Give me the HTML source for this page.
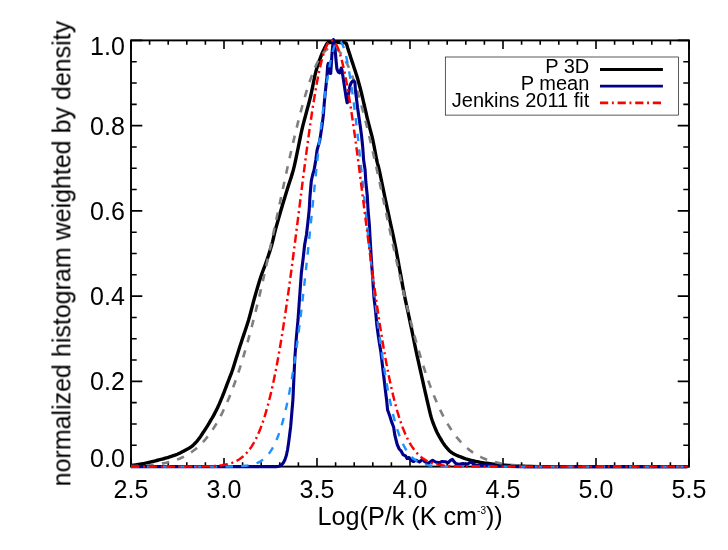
<!DOCTYPE html>
<html><head><meta charset="utf-8"><title>plot</title>
<style>
html,body{margin:0;padding:0;background:#fff;}
body{width:728px;height:550px;overflow:hidden;font-family:"Liberation Sans",sans-serif;}
svg{display:block;}
svg text{font-family:"Liberation Sans",sans-serif;fill:#000;}
</style></head><body>
<svg width="728" height="550" viewBox="0 0 728 550">
<defs><filter id="gs" x="-5%" y="-5%" width="110%" height="110%" color-interpolation-filters="sRGB"><feColorMatrix type="saturate" values="0"/></filter></defs>
<rect x="0" y="0" width="728" height="550" fill="#fff"/>
<g fill="none" stroke="#000">
<rect x="131.00" y="40.40" width="558.00" height="426.20" stroke-width="1.9"/>
<path d="M131.00,466.60v-8.60M131.00,40.40v8.60M149.60,466.60v-4.30M149.60,40.40v4.30M168.20,466.60v-4.30M168.20,40.40v4.30M186.80,466.60v-4.30M186.80,40.40v4.30M205.40,466.60v-4.30M205.40,40.40v4.30M224.00,466.60v-8.60M224.00,40.40v8.60M242.60,466.60v-4.30M242.60,40.40v4.30M261.20,466.60v-4.30M261.20,40.40v4.30M279.80,466.60v-4.30M279.80,40.40v4.30M298.40,466.60v-4.30M298.40,40.40v4.30M317.00,466.60v-8.60M317.00,40.40v8.60M335.60,466.60v-4.30M335.60,40.40v4.30M354.20,466.60v-4.30M354.20,40.40v4.30M372.80,466.60v-4.30M372.80,40.40v4.30M391.40,466.60v-4.30M391.40,40.40v4.30M410.00,466.60v-8.60M410.00,40.40v8.60M428.60,466.60v-4.30M428.60,40.40v4.30M447.20,466.60v-4.30M447.20,40.40v4.30M465.80,466.60v-4.30M465.80,40.40v4.30M484.40,466.60v-4.30M484.40,40.40v4.30M503.00,466.60v-8.60M503.00,40.40v8.60M521.60,466.60v-4.30M521.60,40.40v4.30M540.20,466.60v-4.30M540.20,40.40v4.30M558.80,466.60v-4.30M558.80,40.40v4.30M577.40,466.60v-4.30M577.40,40.40v4.30M596.00,466.60v-8.60M596.00,40.40v8.60M614.60,466.60v-4.30M614.60,40.40v4.30M633.20,466.60v-4.30M633.20,40.40v4.30M651.80,466.60v-4.30M651.80,40.40v4.30M670.40,466.60v-4.30M670.40,40.40v4.30M689.00,466.60v-8.60M689.00,40.40v8.60M131.00,466.60h11.30M689.00,466.60h-11.30M131.00,445.29h5.70M689.00,445.29h-5.70M131.00,423.98h5.70M689.00,423.98h-5.70M131.00,402.67h5.70M689.00,402.67h-5.70M131.00,381.36h11.30M689.00,381.36h-11.30M131.00,360.05h5.70M689.00,360.05h-5.70M131.00,338.74h5.70M689.00,338.74h-5.70M131.00,317.43h5.70M689.00,317.43h-5.70M131.00,296.12h11.30M689.00,296.12h-11.30M131.00,274.81h5.70M689.00,274.81h-5.70M131.00,253.50h5.70M689.00,253.50h-5.70M131.00,232.19h5.70M689.00,232.19h-5.70M131.00,210.88h11.30M689.00,210.88h-11.30M131.00,189.57h5.70M689.00,189.57h-5.70M131.00,168.26h5.70M689.00,168.26h-5.70M131.00,146.95h5.70M689.00,146.95h-5.70M131.00,125.64h11.30M689.00,125.64h-11.30M131.00,104.33h5.70M689.00,104.33h-5.70M131.00,83.02h5.70M689.00,83.02h-5.70M131.00,61.71h5.70M689.00,61.71h-5.70M131.00,40.40h11.30M689.00,40.40h-11.30" stroke-width="1.6"/>
</g>
<g filter="url(#gs)" font-size="25px"><text x="131.0" y="497.8" text-anchor="middle">2.5</text><text x="224.0" y="497.8" text-anchor="middle">3.0</text><text x="317.0" y="497.8" text-anchor="middle">3.5</text><text x="410.0" y="497.8" text-anchor="middle">4.0</text><text x="503.0" y="497.8" text-anchor="middle">4.5</text><text x="596.0" y="497.8" text-anchor="middle">5.0</text><text x="689.0" y="497.8" text-anchor="middle">5.5</text><text x="124.8" y="466.7" text-anchor="end">0.0</text><text x="124.8" y="390.4" text-anchor="end">0.2</text><text x="124.8" y="305.1" text-anchor="end">0.4</text><text x="124.8" y="219.9" text-anchor="end">0.6</text><text x="124.8" y="134.6" text-anchor="end">0.8</text><text x="124.8" y="55.3" text-anchor="end">1.0</text></g>
<g fill="none" stroke-linejoin="round" stroke-linecap="butt">
<path d="M131.00,465.60 L131.79,465.47 L132.90,465.28 L134.20,465.06 L135.61,464.83 L137.00,464.60 L138.44,464.37 L139.99,464.13 L141.57,463.89 L143.10,463.64 L144.50,463.40 L145.73,463.16 L146.84,462.93 L147.90,462.69 L148.93,462.45 L150.00,462.20 L151.10,461.93 L152.20,461.65 L153.30,461.37 L154.40,461.08 L155.50,460.80 L156.60,460.52 L157.70,460.24 L158.80,459.97 L159.90,459.69 L161.00,459.40 L162.11,459.11 L163.22,458.81 L164.34,458.51 L165.43,458.21 L166.50,457.90 L167.53,457.59 L168.54,457.27 L169.53,456.95 L170.51,456.63 L171.50,456.30 L172.49,455.97 L173.48,455.65 L174.47,455.31 L175.44,454.97 L176.40,454.60 L177.35,454.21 L178.29,453.79 L179.21,453.37 L180.12,452.93 L181.00,452.50 L181.86,452.06 L182.71,451.61 L183.53,451.16 L184.33,450.72 L185.10,450.30 L185.83,449.92 L186.52,449.57 L187.19,449.22 L187.84,448.87 L188.50,448.50 L189.16,448.11 L189.81,447.71 L190.46,447.29 L191.09,446.86 L191.70,446.40 L192.29,445.92 L192.85,445.41 L193.41,444.89 L193.95,444.35 L194.50,443.80 L195.04,443.25 L195.58,442.70 L196.12,442.12 L196.66,441.53 L197.20,440.90 L197.76,440.23 L198.32,439.53 L198.88,438.81 L199.44,438.06 L200.00,437.30 L200.56,436.49 L201.12,435.64 L201.68,434.78 L202.21,433.96 L202.70,433.20 L203.13,432.56 L203.50,432.01 L203.85,431.48 L204.24,430.90 L204.70,430.20 L205.25,429.34 L205.87,428.38 L206.52,427.35 L207.18,426.31 L207.80,425.30 L208.39,424.32 L208.98,423.34 L209.56,422.35 L210.13,421.37 L210.70,420.40 L211.27,419.44 L211.83,418.49 L212.39,417.54 L212.95,416.58 L213.50,415.60 L214.04,414.60 L214.58,413.58 L215.12,412.54 L215.66,411.48 L216.20,410.40 L216.76,409.28 L217.32,408.14 L217.89,406.98 L218.45,405.80 L219.00,404.60 L219.53,403.40 L220.04,402.19 L220.56,400.96 L221.07,399.70 L221.60,398.40 L222.15,397.05 L222.71,395.67 L223.28,394.25 L223.84,392.83 L224.40,391.40 L224.95,389.97 L225.49,388.52 L226.02,387.08 L226.56,385.63 L227.10,384.20 L227.64,382.79 L228.18,381.40 L228.72,380.00 L229.26,378.61 L229.80,377.20 L230.32,375.86 L230.82,374.59 L231.33,373.27 L231.88,371.78 L232.50,370.00 L233.17,367.94 L233.87,365.68 L234.63,363.20 L235.47,360.48 L236.40,357.50 L237.46,354.16 L238.64,350.47 L239.88,346.58 L241.15,342.65 L242.40,338.80 L243.63,335.11 L244.87,331.48 L246.12,327.81 L247.36,324.02 L248.60,320.00 L249.82,315.66 L251.04,311.06 L252.26,306.35 L253.48,301.68 L254.70,297.20 L255.94,292.85 L257.21,288.54 L258.47,284.34 L259.70,280.33 L260.90,276.60 L262.05,273.25 L263.16,270.23 L264.25,267.38 L265.32,264.52 L266.40,261.50 L267.50,258.28 L268.60,254.97 L269.69,251.62 L270.73,248.28 L271.70,245.00 L272.54,241.84 L273.28,238.76 L273.99,235.68 L274.74,232.49 L275.60,229.10 L276.59,225.48 L277.65,221.69 L278.77,217.78 L279.93,213.80 L281.10,209.80 L282.30,205.74 L283.54,201.59 L284.80,197.40 L286.06,193.25 L287.30,189.20 L288.54,185.28 L289.79,181.46 L291.02,177.67 L292.21,173.87 L293.30,170.00 L294.28,166.06 L295.18,162.09 L296.02,158.09 L296.85,154.06 L297.70,150.00 L298.56,145.85 L299.42,141.61 L300.27,137.37 L301.13,133.23 L302.00,129.30 L302.89,125.62 L303.79,122.12 L304.70,118.74 L305.60,115.39 L306.50,112.00 L307.38,108.68 L308.24,105.47 L309.11,102.22 L309.99,98.79 L310.90,95.00 L311.84,90.66 L312.80,85.88 L313.77,80.96 L314.77,76.20 L315.80,71.90 L316.88,68.05 L318.02,64.46 L319.17,61.13 L320.28,58.10 L321.30,55.40 L322.24,53.06 L323.14,51.08 L323.97,49.38 L324.73,47.90 L325.40,46.60 L325.95,45.50 L326.39,44.64 L326.76,43.97 L327.12,43.44 L327.50,43.00 L327.88,42.70 L328.24,42.56 L328.60,42.52 L329.01,42.52 L329.50,42.50 L330.10,42.45 L330.77,42.43 L331.49,42.41 L332.24,42.41 L333.00,42.40 L333.77,42.39 L334.56,42.39 L335.38,42.39 L336.19,42.39 L337.00,42.40 L337.81,42.41 L338.62,42.42 L339.44,42.44 L340.23,42.47 L341.00,42.50 L341.76,42.54 L342.52,42.59 L343.25,42.64 L343.92,42.71 L344.50,42.80 L344.96,42.84 L345.33,42.84 L345.64,42.88 L345.93,43.07 L346.25,43.50 L346.58,44.20 L346.88,45.11 L347.19,46.19 L347.53,47.40 L347.93,48.70 L348.38,50.11 L348.88,51.65 L349.41,53.30 L349.98,55.06 L350.57,56.90 L351.23,58.92 L351.94,61.12 L352.68,63.37 L353.39,65.54 L354.03,67.50 L354.58,69.17 L355.08,70.64 L355.55,72.03 L356.01,73.44 L356.50,75.00 L357.03,76.74 L357.57,78.58 L358.12,80.47 L358.65,82.36 L359.16,84.20 L359.64,85.99 L360.11,87.75 L360.56,89.50 L360.99,91.25 L361.43,93.00 L361.85,94.74 L362.25,96.45 L362.66,98.18 L363.06,99.95 L363.49,101.80 L363.94,103.75 L364.41,105.76 L364.89,107.83 L365.37,109.92 L365.85,112.00 L366.30,113.97 L366.73,115.84 L367.17,117.78 L367.69,119.95 L368.31,122.50 L369.09,125.51 L370.00,128.88 L370.96,132.48 L371.93,136.23 L372.82,140.00 L373.66,144.00 L374.48,148.30 L375.28,152.60 L376.02,156.60 L376.70,160.00 L377.24,162.36 L377.64,163.88 L378.03,165.22 L378.51,167.04 L379.20,170.00 L380.15,174.43 L381.29,179.88 L382.53,185.88 L383.78,191.91 L384.95,197.50 L386.04,202.62 L387.10,207.59 L388.15,212.45 L389.18,217.24 L390.20,222.00 L391.21,226.66 L392.20,231.21 L393.19,235.73 L394.16,240.30 L395.12,245.00 L396.07,249.87 L397.01,254.86 L397.95,259.90 L398.87,264.97 L399.80,270.00 L400.74,275.13 L401.69,280.38 L402.62,285.58 L403.53,290.51 L404.38,295.00 L405.17,298.89 L405.89,302.32 L406.59,305.50 L407.28,308.65 L408.00,312.00 L408.73,315.49 L409.46,318.97 L410.21,322.53 L410.98,326.25 L411.80,330.20 L412.68,334.48 L413.61,339.03 L414.56,343.72 L415.53,348.42 L416.50,353.00 L417.50,357.58 L418.53,362.24 L419.56,366.81 L420.53,371.12 L421.40,375.00 L422.14,378.33 L422.77,381.22 L423.35,383.86 L423.92,386.39 L424.50,389.00 L425.10,391.64 L425.68,394.20 L426.27,396.74 L426.87,399.32 L427.50,402.00 L428.17,404.88 L428.87,407.93 L429.59,410.99 L430.30,413.90 L431.00,416.50 L431.67,418.75 L432.33,420.76 L432.99,422.58 L433.64,424.31 L434.30,426.00 L434.96,427.65 L435.62,429.22 L436.27,430.70 L436.93,432.13 L437.60,433.50 L438.28,434.81 L438.96,436.06 L439.65,437.24 L440.33,438.39 L441.00,439.50 L441.65,440.58 L442.29,441.61 L442.92,442.61 L443.56,443.57 L444.20,444.50 L444.85,445.41 L445.51,446.29 L446.18,447.13 L446.84,447.94 L447.50,448.70 L448.14,449.41 L448.75,450.07 L449.38,450.69 L450.05,451.30 L450.80,451.90 L451.64,452.51 L452.56,453.12 L453.52,453.71 L454.51,454.28 L455.50,454.80 L456.49,455.27 L457.49,455.69 L458.52,456.08 L459.58,456.48 L460.70,456.90 L461.88,457.36 L463.12,457.83 L464.39,458.31 L465.69,458.77 L467.00,459.20 L468.31,459.60 L469.62,459.97 L470.96,460.32 L472.34,460.66 L473.80,461.00 L475.35,461.34 L476.99,461.68 L478.67,462.01 L480.35,462.32 L482.00,462.60 L483.61,462.86 L485.21,463.09 L486.81,463.30 L488.40,463.50 L490.00,463.70 L491.60,463.90 L493.20,464.08 L494.80,464.26 L496.40,464.44 L498.00,464.60 L499.58,464.75 L501.15,464.90 L502.73,465.04 L504.34,465.17 L506.00,465.30 L507.72,465.43 L509.48,465.56 L511.28,465.68 L513.12,465.79 L515.00,465.90 L516.86,465.99 L518.69,466.08 L520.59,466.16 L522.66,466.23 L525.00,466.30 L525.56,466.37 L524.28,466.44 L524.23,466.51 L528.45,466.56 L540.00,466.60 L563.36,466.60 L596.50,466.60 L632.70,466.60 L665.24,466.60 L687.40,466.60" stroke="#000" stroke-width="3.4"/>
<path d="M131.00,466.17 L132.00,466.14 L133.00,466.11 L134.00,466.08 L135.00,466.04 L136.00,466.00 L137.00,465.96 L138.00,465.92 L139.00,465.87 L140.00,465.82 L141.00,465.77 L142.00,465.71 L143.00,465.65 L144.00,465.59 L145.00,465.52 L146.00,465.45 L147.00,465.38 L148.00,465.30 L149.00,465.21 L150.00,465.12 L151.00,465.03 L152.00,464.93 L153.00,464.82 L154.00,464.71 L155.00,464.59 L156.00,464.47 L157.00,464.34 L158.00,464.20 L159.00,464.05 L160.00,463.90 L161.00,463.74 L162.00,463.57 L163.00,463.38 L164.00,463.19 L165.00,462.99 L166.00,462.78 L167.00,462.56 L168.00,462.33 L169.00,462.08 L170.00,461.83 L171.00,461.56 L172.00,461.27 L173.00,460.97 L174.00,460.66 L175.00,460.33 L176.00,459.99 L177.00,459.63 L178.00,459.25 L179.00,458.86 L180.00,458.44 L181.00,458.01 L182.00,457.56 L183.00,457.09 L184.00,456.59 L185.00,456.07 L186.00,455.54 L187.00,454.97 L188.00,454.38 L189.00,453.77 L190.00,453.13 L191.00,452.47 L192.00,451.77 L193.00,451.05 L194.00,450.30 L195.00,449.52 L196.00,448.70 L197.00,447.85 L198.00,446.97 L199.00,446.06 L200.00,445.11 L201.00,444.12 L202.00,443.10 L203.00,442.04 L204.00,440.94 L205.00,439.80 L206.00,438.62 L207.00,437.39 L208.00,436.13 L209.00,434.81 L210.00,433.46 L211.00,432.06 L212.00,430.61 L213.00,429.11 L214.00,427.56 L215.00,425.97 L216.00,424.32 L217.00,422.62 L218.00,420.87 L219.00,419.06 L220.00,417.20 L221.00,415.29 L222.00,413.32 L223.00,411.29 L224.00,409.21 L225.00,407.06 L226.00,404.86 L227.00,402.60 L228.00,400.28 L229.00,397.89 L230.00,395.45 L231.00,392.94 L232.00,390.37 L233.00,387.74 L234.00,385.05 L235.00,382.29 L236.00,379.47 L237.00,376.59 L238.00,373.64 L239.00,370.63 L240.00,367.55 L241.00,364.41 L242.00,361.21 L243.00,357.94 L244.00,354.61 L245.00,351.22 L246.00,347.77 L247.00,344.25 L248.00,340.67 L249.00,337.04 L250.00,333.34 L251.00,329.58 L252.00,325.77 L253.00,321.90 L254.00,317.98 L255.00,314.00 L256.00,309.96 L257.00,305.88 L258.00,301.74 L259.00,297.56 L260.00,293.33 L261.00,289.05 L262.00,284.73 L263.00,280.37 L264.00,275.97 L265.00,271.53 L266.00,267.06 L267.00,262.56 L268.00,258.02 L269.00,253.45 L270.00,248.86 L271.00,244.25 L272.00,239.62 L273.00,234.97 L274.00,230.30 L275.00,225.62 L276.00,220.94 L277.00,216.25 L278.00,211.55 L279.00,206.86 L280.00,202.17 L281.00,197.49 L282.00,192.81 L283.00,188.16 L284.00,183.52 L285.00,178.90 L286.00,174.30 L287.00,169.73 L288.00,165.20 L289.00,160.70 L290.00,156.24 L291.00,151.82 L292.00,147.44 L293.00,143.12 L294.00,138.85 L295.00,134.63 L296.00,130.48 L297.00,126.39 L298.00,122.37 L299.00,118.42 L300.00,114.55 L301.00,110.75 L302.00,107.03 L303.00,103.40 L304.00,99.86 L305.00,96.41 L306.00,93.06 L307.00,89.80 L308.00,86.65 L309.00,83.60 L310.00,80.65 L311.00,77.82 L312.00,75.10 L313.00,72.50 L314.00,70.01 L315.00,67.64 L316.00,65.40 L317.00,63.28 L318.00,61.29 L319.00,59.43 L320.00,57.70 L321.00,56.10 L322.00,54.64 L323.00,53.31 L324.00,52.12 L325.00,51.06 L326.00,50.15 L327.00,49.38 L328.00,48.75 L329.00,48.26 L330.00,47.91 L331.00,47.71 L332.00,47.65 L333.00,47.73 L334.00,47.95 L335.00,48.32 L336.00,48.83 L337.00,49.48 L338.00,50.27 L339.00,51.20 L340.00,52.28 L341.00,53.49 L342.00,54.83 L343.00,56.32 L344.00,57.93 L345.00,59.68 L346.00,61.56 L347.00,63.57 L348.00,65.71 L349.00,67.97 L350.00,70.35 L351.00,72.85 L352.00,75.48 L353.00,78.21 L354.00,81.06 L355.00,84.02 L356.00,87.08 L357.00,90.25 L358.00,93.52 L359.00,96.89 L360.00,100.35 L361.00,103.91 L362.00,107.55 L363.00,111.28 L364.00,115.08 L365.00,118.97 L366.00,122.93 L367.00,126.96 L368.00,131.06 L369.00,135.22 L370.00,139.44 L371.00,143.72 L372.00,148.05 L373.00,152.43 L374.00,156.86 L375.00,161.33 L376.00,165.83 L377.00,170.37 L378.00,174.94 L379.00,179.54 L380.00,184.16 L381.00,188.81 L382.00,193.47 L383.00,198.14 L384.00,202.83 L385.00,207.52 L386.00,212.21 L387.00,216.90 L388.00,221.59 L389.00,226.28 L390.00,230.96 L391.00,235.62 L392.00,240.27 L393.00,244.90 L394.00,249.51 L395.00,254.09 L396.00,258.66 L397.00,263.19 L398.00,267.69 L399.00,272.16 L400.00,276.59 L401.00,280.99 L402.00,285.34 L403.00,289.65 L404.00,293.92 L405.00,298.15 L406.00,302.33 L407.00,306.45 L408.00,310.53 L409.00,314.56 L410.00,318.53 L411.00,322.45 L412.00,326.31 L413.00,330.11 L414.00,333.86 L415.00,337.55 L416.00,341.18 L417.00,344.75 L418.00,348.25 L419.00,351.70 L420.00,355.08 L421.00,358.40 L422.00,361.66 L423.00,364.85 L424.00,367.99 L425.00,371.05 L426.00,374.05 L427.00,376.99 L428.00,379.87 L429.00,382.68 L430.00,385.43 L431.00,388.12 L432.00,390.74 L433.00,393.30 L434.00,395.79 L435.00,398.23 L436.00,400.60 L437.00,402.92 L438.00,405.17 L439.00,407.37 L440.00,409.50 L441.00,411.58 L442.00,413.60 L443.00,415.56 L444.00,417.47 L445.00,419.32 L446.00,421.12 L447.00,422.86 L448.00,424.55 L449.00,426.19 L450.00,427.78 L451.00,429.32 L452.00,430.81 L453.00,432.26 L454.00,433.65 L455.00,435.00 L456.00,436.31 L457.00,437.57 L458.00,438.78 L459.00,439.96 L460.00,441.10 L461.00,442.19 L462.00,443.25 L463.00,444.26 L464.00,445.24 L465.00,446.19 L466.00,447.10 L467.00,447.97 L468.00,448.82 L469.00,449.63 L470.00,450.41 L471.00,451.15 L472.00,451.87 L473.00,452.56 L474.00,453.22 L475.00,453.86 L476.00,454.47 L477.00,455.05 L478.00,455.61 L479.00,456.15 L480.00,456.66 L481.00,457.15 L482.00,457.62 L483.00,458.07 L484.00,458.50 L485.00,458.91 L486.00,459.31 L487.00,459.68 L488.00,460.04 L489.00,460.38 L490.00,460.71 L491.00,461.02 L492.00,461.31 L493.00,461.59 L494.00,461.86 L495.00,462.12 L496.00,462.36 L497.00,462.59 L498.00,462.81 L499.00,463.02 L500.00,463.22 L501.00,463.41 L502.00,463.59 L503.00,463.76 L504.00,463.92 L505.00,464.07 L506.00,464.22 L507.00,464.36 L508.00,464.49 L509.00,464.61 L510.00,464.73 L511.00,464.84 L512.00,464.94 L513.00,465.04 L514.00,465.14 L515.00,465.22 L516.00,465.31 L517.00,465.39 L518.00,465.46 L519.00,465.53 L520.00,465.60 L521.00,465.66 L522.00,465.72 L523.00,465.77 L524.00,465.83 L525.00,465.88 L526.00,465.92 L527.00,465.97 L528.00,466.01 L529.00,466.05 L530.00,466.08 L531.00,466.12 L532.00,466.15 L533.00,466.18 L534.00,466.21 L535.00,466.23 L536.00,466.26 L537.00,466.28 L538.00,466.30 L539.00,466.32 L540.00,466.34 L541.00,466.36 L542.00,466.38 L543.00,466.39 L544.00,466.41 L545.00,466.42 L546.00,466.43 L547.00,466.44 L548.00,466.45 L549.00,466.47 L550.00,466.47 L551.00,466.48 L552.00,466.49 L553.00,466.50 L554.00,466.51 L555.00,466.51 L556.00,466.52 L557.00,466.53 L558.00,466.53 L559.00,466.54 L560.00,466.54 L561.00,466.55 L562.00,466.55 L563.00,466.55 L564.00,466.56 L565.00,466.56 L566.00,466.56 L567.00,466.57 L568.00,466.57 L569.00,466.57 L570.00,466.57 L571.00,466.58 L572.00,466.58 L573.00,466.58 L574.00,466.58 L575.00,466.58 L576.00,466.58 L577.00,466.59 L578.00,466.59 L579.00,466.59 L580.00,466.59 L581.00,466.59 L582.00,466.59 L583.00,466.59 L584.00,466.59 L585.00,466.59 L586.00,466.59 L587.00,466.59 L588.00,466.59 L589.00,466.59 L590.00,466.60 L591.00,466.60 L592.00,466.60 L593.00,466.60 L594.00,466.60 L595.00,466.60 L596.00,466.60 L597.00,466.60 L598.00,466.60 L599.00,466.60 L600.00,466.60 L601.00,466.60 L602.00,466.60 L603.00,466.60 L604.00,466.60 L605.00,466.60 L606.00,466.60 L607.00,466.60 L608.00,466.60 L609.00,466.60 L610.00,466.60 L611.00,466.60 L612.00,466.60 L613.00,466.60 L614.00,466.60 L615.00,466.60 L616.00,466.60 L617.00,466.60 L618.00,466.60 L619.00,466.60 L620.00,466.60 L621.00,466.60 L622.00,466.60 L623.00,466.60 L624.00,466.60 L625.00,466.60 L626.00,466.60 L627.00,466.60 L628.00,466.60 L629.00,466.60 L630.00,466.60 L631.00,466.60 L632.00,466.60 L633.00,466.60 L634.00,466.60 L635.00,466.60 L636.00,466.60 L637.00,466.60 L638.00,466.60 L639.00,466.60 L640.00,466.60 L641.00,466.60 L642.00,466.60 L643.00,466.60 L644.00,466.60 L645.00,466.60 L646.00,466.60 L647.00,466.60 L648.00,466.60 L649.00,466.60 L650.00,466.60 L651.00,466.60 L652.00,466.60 L653.00,466.60 L654.00,466.60 L655.00,466.60 L656.00,466.60 L657.00,466.60 L658.00,466.60 L659.00,466.60 L660.00,466.60 L661.00,466.60 L662.00,466.60 L663.00,466.60 L664.00,466.60 L665.00,466.60 L666.00,466.60 L667.00,466.60 L668.00,466.60 L669.00,466.60 L670.00,466.60 L671.00,466.60 L672.00,466.60 L673.00,466.60 L674.00,466.60 L675.00,466.60 L676.00,466.60 L677.00,466.60 L678.00,466.60 L679.00,466.60 L680.00,466.60 L681.00,466.60 L682.00,466.60 L683.00,466.60 L684.00,466.60 L685.00,466.60 L686.00,466.60 L687.00,466.60 L687.40,466.60" stroke="#7f7f7f" stroke-width="2.6" stroke-dasharray="7.5 8.24" stroke-dashoffset="0.45"/>
<path d="M131.00,466.60 L276.00,466.60 L279.00,466.20 L281.50,465.00 L283.50,462.50 L285.00,459.50 L286.40,455.30 L287.50,450.00 L288.50,443.60 L289.60,435.00 L290.70,426.20 L291.80,413.00 L292.90,400.00 L293.80,380.00 L294.80,358.50 L296.30,338.00 L298.00,320.00 L299.40,300.00 L301.40,272.50 L303.20,258.00 L304.60,245.00 L306.40,235.00 L307.90,222.20 L309.20,210.00 L309.90,197.50 L310.60,189.00 L311.30,181.00 L312.60,175.00 L314.10,170.00 L315.80,160.00 L317.10,150.00 L319.80,140.30 L321.70,128.00 L323.30,115.60 L324.20,104.00 L325.20,93.20 L326.90,77.20 L327.60,66.00 L328.30,63.40 L329.30,70.00 L329.90,73.20 L330.70,73.50 L331.20,66.00 L331.90,55.00 L332.70,46.00 L333.50,39.60 L334.40,45.00 L335.40,53.00 L336.20,62.00 L336.90,68.80 L338.30,72.10 L339.70,72.80 L340.60,70.00 L341.30,68.00 L342.00,70.00 L342.80,75.50 L344.80,88.80 L346.20,98.00 L347.10,102.80 L347.70,102.00 L348.70,93.20 L349.90,85.90 L351.20,82.80 L352.48,81.30 L353.90,80.90 L354.92,82.50 L355.40,90.00 L356.40,98.00 L357.60,108.00 L358.90,117.00 L360.40,127.00 L361.60,136.20 L362.80,148.00 L363.60,160.00 L365.10,170.00 L365.84,182.00 L367.30,196.00 L368.06,210.00 L369.44,226.00 L370.20,240.00 L371.40,260.00 L372.80,280.00 L373.90,297.00 L375.60,311.00 L376.80,324.70 L378.60,338.00 L380.90,352.20 L382.50,366.00 L383.90,377.50 L385.60,392.00 L386.60,400.00 L387.60,410.00 L389.80,416.00 L391.40,421.40 L393.60,427.00 L394.80,435.00 L397.20,444.50 L399.20,449.00 L401.00,450.80 L403.00,454.60 L405.50,455.80 L407.00,458.50 L409.00,457.50 L411.20,460.40 L413.50,461.50 L416.00,460.20 L419.40,462.00 L421.20,460.50 L422.70,459.30 L424.50,461.50 L427.70,463.50 L430.00,462.00 L432.60,460.20 L435.50,462.00 L439.20,462.80 L442.00,461.50 L445.50,461.80 L448.00,462.80 L450.50,460.30 L452.40,459.30 L454.00,461.50 L455.70,463.50 L459.00,464.20 L463.00,463.60 L467.00,464.30 L470.00,462.50 L471.40,461.80 L473.00,463.80 L476.00,465.20 L482.00,465.60 L488.00,464.90 L494.00,466.00 L505.00,466.30 L520.00,466.60 L687.40,466.60" stroke="#00008b" stroke-width="3.1"/>
<path d="M131.00,466.60 L132.00,466.60 L133.00,466.60 L134.00,466.60 L135.00,466.60 L136.00,466.60 L137.00,466.60 L138.00,466.60 L139.00,466.60 L140.00,466.60 L141.00,466.60 L142.00,466.60 L143.00,466.60 L144.00,466.60 L145.00,466.60 L146.00,466.60 L147.00,466.60 L148.00,466.60 L149.00,466.60 L150.00,466.60 L151.00,466.60 L152.00,466.60 L153.00,466.60 L154.00,466.60 L155.00,466.60 L156.00,466.60 L157.00,466.60 L158.00,466.60 L159.00,466.60 L160.00,466.60 L161.00,466.60 L162.00,466.60 L163.00,466.60 L164.00,466.60 L165.00,466.60 L166.00,466.60 L167.00,466.60 L168.00,466.60 L169.00,466.60 L170.00,466.60 L171.00,466.60 L172.00,466.60 L173.00,466.60 L174.00,466.60 L175.00,466.60 L176.00,466.60 L177.00,466.60 L178.00,466.60 L179.00,466.60 L180.00,466.60 L181.00,466.60 L182.00,466.60 L183.00,466.60 L184.00,466.60 L185.00,466.60 L186.00,466.60 L187.00,466.60 L188.00,466.60 L189.00,466.60 L190.00,466.60 L191.00,466.60 L192.00,466.60 L193.00,466.60 L194.00,466.60 L195.00,466.60 L196.00,466.60 L197.00,466.60 L198.00,466.60 L199.00,466.60 L200.00,466.60 L201.00,466.60 L202.00,466.60 L203.00,466.60 L204.00,466.60 L205.00,466.60 L206.00,466.60 L207.00,466.60 L208.00,466.60 L209.00,466.60 L210.00,466.60 L211.00,466.60 L212.00,466.60 L213.00,466.59 L214.00,466.59 L215.00,466.59 L216.00,466.59 L217.00,466.59 L218.00,466.59 L219.00,466.59 L220.00,466.58 L221.00,466.58 L222.00,466.58 L223.00,466.57 L224.00,466.57 L225.00,466.56 L226.00,466.55 L227.00,466.54 L228.00,466.53 L229.00,466.52 L230.00,466.51 L231.00,466.49 L232.00,466.48 L233.00,466.46 L234.00,466.43 L235.00,466.41 L236.00,466.38 L237.00,466.34 L238.00,466.30 L239.00,466.25 L240.00,466.20 L241.00,466.14 L242.00,466.07 L243.00,466.00 L244.00,465.91 L245.00,465.81 L246.00,465.70 L247.00,465.57 L248.00,465.42 L249.00,465.26 L250.00,465.08 L251.00,464.88 L252.00,464.65 L253.00,464.39 L254.00,464.10 L255.00,463.78 L256.00,463.43 L257.00,463.03 L258.00,462.59 L259.00,462.11 L260.00,461.57 L261.00,460.97 L262.00,460.31 L263.00,459.59 L264.00,458.79 L265.00,457.92 L266.00,456.96 L267.00,455.91 L268.00,454.76 L269.00,453.51 L270.00,452.15 L271.00,450.67 L272.00,449.06 L273.00,447.32 L274.00,445.43 L275.00,443.40 L276.00,441.20 L277.00,438.83 L278.00,436.29 L279.00,433.56 L280.00,430.64 L281.00,427.51 L282.00,424.18 L283.00,420.62 L284.00,416.84 L285.00,412.83 L286.00,408.57 L287.00,404.07 L288.00,399.31 L289.00,394.29 L290.00,389.01 L291.00,383.47 L292.00,377.65 L293.00,371.56 L294.00,365.21 L295.00,358.58 L296.00,351.68 L297.00,344.51 L298.00,337.09 L299.00,329.41 L300.00,321.48 L301.00,313.31 L302.00,304.91 L303.00,296.30 L304.00,287.48 L305.00,278.48 L306.00,269.30 L307.00,259.97 L308.00,250.51 L309.00,240.94 L310.00,231.29 L311.00,221.57 L312.00,211.81 L313.00,202.04 L314.00,192.29 L315.00,182.59 L316.00,172.96 L317.00,163.44 L318.00,154.05 L319.00,144.84 L320.00,135.83 L321.00,127.05 L322.00,118.54 L323.00,110.32 L324.00,102.43 L325.00,94.89 L326.00,87.74 L327.00,81.00 L328.00,74.71 L329.00,68.88 L330.00,63.53 L331.00,58.70 L332.00,54.40 L333.00,50.66 L334.00,47.47 L335.00,44.86 L336.00,42.85 L337.00,41.43 L338.00,40.61 L339.00,40.41 L340.00,40.81 L341.00,41.82 L342.00,43.43 L343.00,45.63 L344.00,48.43 L345.00,51.79 L346.00,55.72 L347.00,60.19 L348.00,65.19 L349.00,70.69 L350.00,76.67 L351.00,83.11 L352.00,89.98 L353.00,97.26 L354.00,104.91 L355.00,112.91 L356.00,121.23 L357.00,129.83 L358.00,138.69 L359.00,147.77 L360.00,157.04 L361.00,166.47 L362.00,176.03 L363.00,185.68 L364.00,195.41 L365.00,205.17 L366.00,214.93 L367.00,224.68 L368.00,234.39 L369.00,244.02 L370.00,253.55 L371.00,262.97 L372.00,272.25 L373.00,281.38 L374.00,290.32 L375.00,299.08 L376.00,307.62 L377.00,315.95 L378.00,324.04 L379.00,331.89 L380.00,339.49 L381.00,346.84 L382.00,353.91 L383.00,360.73 L384.00,367.27 L385.00,373.54 L386.00,379.54 L387.00,385.27 L388.00,390.73 L389.00,395.93 L390.00,400.86 L391.00,405.53 L392.00,409.96 L393.00,414.14 L394.00,418.08 L395.00,421.79 L396.00,425.27 L397.00,428.54 L398.00,431.60 L399.00,434.46 L400.00,437.12 L401.00,439.61 L402.00,441.92 L403.00,444.06 L404.00,446.05 L405.00,447.89 L406.00,449.59 L407.00,451.16 L408.00,452.60 L409.00,453.93 L410.00,455.14 L411.00,456.26 L412.00,457.28 L413.00,458.21 L414.00,459.06 L415.00,459.83 L416.00,460.53 L417.00,461.17 L418.00,461.75 L419.00,462.27 L420.00,462.74 L421.00,463.16 L422.00,463.55 L423.00,463.89 L424.00,464.20 L425.00,464.48 L426.00,464.72 L427.00,464.94 L428.00,465.14 L429.00,465.32 L430.00,465.47 L431.00,465.61 L432.00,465.73 L433.00,465.84 L434.00,465.94 L435.00,466.02 L436.00,466.10 L437.00,466.16 L438.00,466.22 L439.00,466.27 L440.00,466.31 L441.00,466.35 L442.00,466.39 L443.00,466.42 L444.00,466.44 L445.00,466.46 L446.00,466.48 L447.00,466.50 L448.00,466.51 L449.00,466.53 L450.00,466.54 L451.00,466.55 L452.00,466.55 L453.00,466.56 L454.00,466.57 L455.00,466.57 L456.00,466.58 L457.00,466.58 L458.00,466.58 L459.00,466.59 L460.00,466.59 L461.00,466.59 L462.00,466.59 L463.00,466.59 L464.00,466.59 L465.00,466.60 L466.00,466.60 L467.00,466.60 L468.00,466.60 L469.00,466.60 L470.00,466.60 L471.00,466.60 L472.00,466.60 L473.00,466.60 L474.00,466.60 L475.00,466.60 L476.00,466.60 L477.00,466.60 L478.00,466.60 L479.00,466.60 L480.00,466.60 L481.00,466.60 L482.00,466.60 L483.00,466.60 L484.00,466.60 L485.00,466.60 L486.00,466.60 L487.00,466.60 L488.00,466.60 L489.00,466.60 L490.00,466.60 L491.00,466.60 L492.00,466.60 L493.00,466.60 L494.00,466.60 L495.00,466.60 L496.00,466.60 L497.00,466.60 L498.00,466.60 L499.00,466.60 L500.00,466.60 L501.00,466.60 L502.00,466.60 L503.00,466.60 L504.00,466.60 L505.00,466.60 L506.00,466.60 L507.00,466.60 L508.00,466.60 L509.00,466.60 L510.00,466.60 L511.00,466.60 L512.00,466.60 L513.00,466.60 L514.00,466.60 L515.00,466.60 L516.00,466.60 L517.00,466.60 L518.00,466.60 L519.00,466.60 L520.00,466.60 L521.00,466.60 L522.00,466.60 L523.00,466.60 L524.00,466.60 L525.00,466.60 L526.00,466.60 L527.00,466.60 L528.00,466.60 L529.00,466.60 L530.00,466.60 L531.00,466.60 L532.00,466.60 L533.00,466.60 L534.00,466.60 L535.00,466.60 L536.00,466.60 L537.00,466.60 L538.00,466.60 L539.00,466.60 L540.00,466.60 L541.00,466.60 L542.00,466.60 L543.00,466.60 L544.00,466.60 L545.00,466.60 L546.00,466.60 L547.00,466.60 L548.00,466.60 L549.00,466.60 L550.00,466.60 L551.00,466.60 L552.00,466.60 L553.00,466.60 L554.00,466.60 L555.00,466.60 L556.00,466.60 L557.00,466.60 L558.00,466.60 L559.00,466.60 L560.00,466.60 L561.00,466.60 L562.00,466.60 L563.00,466.60 L564.00,466.60 L565.00,466.60 L566.00,466.60 L567.00,466.60 L568.00,466.60 L569.00,466.60 L570.00,466.60 L571.00,466.60 L572.00,466.60 L573.00,466.60 L574.00,466.60 L575.00,466.60 L576.00,466.60 L577.00,466.60 L578.00,466.60 L579.00,466.60 L580.00,466.60 L581.00,466.60 L582.00,466.60 L583.00,466.60 L584.00,466.60 L585.00,466.60 L586.00,466.60 L587.00,466.60 L588.00,466.60 L589.00,466.60 L590.00,466.60 L591.00,466.60 L592.00,466.60 L593.00,466.60 L594.00,466.60 L595.00,466.60 L596.00,466.60 L597.00,466.60 L598.00,466.60 L599.00,466.60 L600.00,466.60 L601.00,466.60 L602.00,466.60 L603.00,466.60 L604.00,466.60 L605.00,466.60 L606.00,466.60 L607.00,466.60 L608.00,466.60 L609.00,466.60 L610.00,466.60 L611.00,466.60 L612.00,466.60 L613.00,466.60 L614.00,466.60 L615.00,466.60 L616.00,466.60 L617.00,466.60 L618.00,466.60 L619.00,466.60 L620.00,466.60 L621.00,466.60 L622.00,466.60 L623.00,466.60 L624.00,466.60 L625.00,466.60 L626.00,466.60 L627.00,466.60 L628.00,466.60 L629.00,466.60 L630.00,466.60 L631.00,466.60 L632.00,466.60 L633.00,466.60 L634.00,466.60 L635.00,466.60 L636.00,466.60 L637.00,466.60 L638.00,466.60 L639.00,466.60 L640.00,466.60 L641.00,466.60 L642.00,466.60 L643.00,466.60 L644.00,466.60 L645.00,466.60 L646.00,466.60 L647.00,466.60 L648.00,466.60 L649.00,466.60 L650.00,466.60 L651.00,466.60 L652.00,466.60 L653.00,466.60 L654.00,466.60 L655.00,466.60 L656.00,466.60 L657.00,466.60 L658.00,466.60 L659.00,466.60 L660.00,466.60 L661.00,466.60 L662.00,466.60 L663.00,466.60 L664.00,466.60 L665.00,466.60 L666.00,466.60 L667.00,466.60 L668.00,466.60 L669.00,466.60 L670.00,466.60 L671.00,466.60 L672.00,466.60 L673.00,466.60 L674.00,466.60 L675.00,466.60 L676.00,466.60 L677.00,466.60 L678.00,466.60 L679.00,466.60 L680.00,466.60 L681.00,466.60 L682.00,466.60 L683.00,466.60 L684.00,466.60 L685.00,466.60 L686.00,466.60 L687.00,466.60 L687.40,466.60" stroke="#1e90ff" stroke-width="2.4" stroke-dasharray="7.5 8.21" stroke-dashoffset="15.51"/>
<path d="M131.00,466.60 L132.00,466.60 L133.00,466.60 L134.00,466.60 L135.00,466.60 L136.00,466.60 L137.00,466.60 L138.00,466.60 L139.00,466.60 L140.00,466.60 L141.00,466.60 L142.00,466.60 L143.00,466.60 L144.00,466.60 L145.00,466.60 L146.00,466.60 L147.00,466.60 L148.00,466.60 L149.00,466.60 L150.00,466.60 L151.00,466.60 L152.00,466.60 L153.00,466.60 L154.00,466.60 L155.00,466.60 L156.00,466.60 L157.00,466.60 L158.00,466.60 L159.00,466.60 L160.00,466.60 L161.00,466.60 L162.00,466.60 L163.00,466.60 L164.00,466.60 L165.00,466.60 L166.00,466.60 L167.00,466.60 L168.00,466.60 L169.00,466.60 L170.00,466.60 L171.00,466.60 L172.00,466.60 L173.00,466.60 L174.00,466.60 L175.00,466.60 L176.00,466.60 L177.00,466.60 L178.00,466.59 L179.00,466.59 L180.00,466.59 L181.00,466.59 L182.00,466.59 L183.00,466.59 L184.00,466.59 L185.00,466.58 L186.00,466.58 L187.00,466.58 L188.00,466.58 L189.00,466.57 L190.00,466.57 L191.00,466.57 L192.00,466.56 L193.00,466.55 L194.00,466.55 L195.00,466.54 L196.00,466.53 L197.00,466.52 L198.00,466.51 L199.00,466.50 L200.00,466.49 L201.00,466.47 L202.00,466.46 L203.00,466.44 L204.00,466.42 L205.00,466.39 L206.00,466.37 L207.00,466.34 L208.00,466.31 L209.00,466.27 L210.00,466.23 L211.00,466.18 L212.00,466.13 L213.00,466.08 L214.00,466.01 L215.00,465.94 L216.00,465.87 L217.00,465.78 L218.00,465.69 L219.00,465.59 L220.00,465.47 L221.00,465.34 L222.00,465.21 L223.00,465.05 L224.00,464.89 L225.00,464.70 L226.00,464.50 L227.00,464.28 L228.00,464.04 L229.00,463.77 L230.00,463.49 L231.00,463.17 L232.00,462.83 L233.00,462.46 L234.00,462.05 L235.00,461.61 L236.00,461.13 L237.00,460.61 L238.00,460.05 L239.00,459.45 L240.00,458.79 L241.00,458.08 L242.00,457.32 L243.00,456.50 L244.00,455.62 L245.00,454.67 L246.00,453.65 L247.00,452.55 L248.00,451.38 L249.00,450.13 L250.00,448.79 L251.00,447.36 L252.00,445.84 L253.00,444.22 L254.00,442.49 L255.00,440.65 L256.00,438.70 L257.00,436.63 L258.00,434.44 L259.00,432.12 L260.00,429.67 L261.00,427.09 L262.00,424.36 L263.00,421.49 L264.00,418.46 L265.00,415.29 L266.00,411.95 L267.00,408.46 L268.00,404.80 L269.00,400.97 L270.00,396.97 L271.00,392.79 L272.00,388.45 L273.00,383.92 L274.00,379.21 L275.00,374.33 L276.00,369.26 L277.00,364.02 L278.00,358.59 L279.00,352.98 L280.00,347.20 L281.00,341.24 L282.00,335.11 L283.00,328.81 L284.00,322.34 L285.00,315.72 L286.00,308.94 L287.00,302.01 L288.00,294.94 L289.00,287.74 L290.00,280.42 L291.00,272.97 L292.00,265.42 L293.00,257.78 L294.00,250.05 L295.00,242.25 L296.00,234.38 L297.00,226.47 L298.00,218.53 L299.00,210.57 L300.00,202.60 L301.00,194.64 L302.00,186.71 L303.00,178.82 L304.00,170.99 L305.00,163.24 L306.00,155.58 L307.00,148.02 L308.00,140.60 L309.00,133.31 L310.00,126.19 L311.00,119.25 L312.00,112.50 L313.00,105.96 L314.00,99.65 L315.00,93.59 L316.00,87.79 L317.00,82.26 L318.00,77.02 L319.00,72.08 L320.00,67.46 L321.00,63.17 L322.00,59.22 L323.00,55.63 L324.00,52.39 L325.00,49.53 L326.00,47.04 L327.00,44.94 L328.00,43.24 L329.00,41.93 L330.00,41.02 L331.00,40.51 L332.00,40.41 L333.00,40.72 L334.00,41.42 L335.00,42.53 L336.00,44.04 L337.00,45.94 L338.00,48.24 L339.00,50.91 L340.00,53.96 L341.00,57.38 L342.00,61.15 L343.00,65.27 L344.00,69.73 L345.00,74.51 L346.00,79.60 L347.00,84.98 L348.00,90.65 L349.00,96.59 L350.00,102.78 L351.00,109.20 L352.00,115.85 L353.00,122.70 L354.00,129.73 L355.00,136.94 L356.00,144.29 L357.00,151.78 L358.00,159.39 L359.00,167.10 L360.00,174.90 L361.00,182.76 L362.00,190.67 L363.00,198.62 L364.00,206.58 L365.00,214.55 L366.00,222.51 L367.00,230.43 L368.00,238.32 L369.00,246.16 L370.00,253.92 L371.00,261.61 L372.00,269.21 L373.00,276.71 L374.00,284.09 L375.00,291.36 L376.00,298.50 L377.00,305.49 L378.00,312.35 L379.00,319.05 L380.00,325.60 L381.00,331.98 L382.00,338.20 L383.00,344.24 L384.00,350.11 L385.00,355.81 L386.00,361.32 L387.00,366.66 L388.00,371.82 L389.00,376.79 L390.00,381.59 L391.00,386.21 L392.00,390.64 L393.00,394.90 L394.00,398.99 L395.00,402.90 L396.00,406.65 L397.00,410.22 L398.00,413.64 L399.00,416.89 L400.00,419.99 L401.00,422.94 L402.00,425.74 L403.00,428.40 L404.00,430.92 L405.00,433.30 L406.00,435.55 L407.00,437.68 L408.00,439.69 L409.00,441.58 L410.00,443.36 L411.00,445.04 L412.00,446.61 L413.00,448.09 L414.00,449.47 L415.00,450.77 L416.00,451.98 L417.00,453.11 L418.00,454.17 L419.00,455.15 L420.00,456.07 L421.00,456.92 L422.00,457.71 L423.00,458.44 L424.00,459.13 L425.00,459.76 L426.00,460.34 L427.00,460.88 L428.00,461.38 L429.00,461.83 L430.00,462.26 L431.00,462.65 L432.00,463.00 L433.00,463.33 L434.00,463.63 L435.00,463.91 L436.00,464.16 L437.00,464.39 L438.00,464.60 L439.00,464.80 L440.00,464.97 L441.00,465.13 L442.00,465.28 L443.00,465.41 L444.00,465.53 L445.00,465.64 L446.00,465.74 L447.00,465.83 L448.00,465.91 L449.00,465.98 L450.00,466.05 L451.00,466.10 L452.00,466.16 L453.00,466.21 L454.00,466.25 L455.00,466.29 L456.00,466.32 L457.00,466.35 L458.00,466.38 L459.00,466.41 L460.00,466.43 L461.00,466.45 L462.00,466.47 L463.00,466.48 L464.00,466.50 L465.00,466.51 L466.00,466.52 L467.00,466.53 L468.00,466.54 L469.00,466.54 L470.00,466.55 L471.00,466.56 L472.00,466.56 L473.00,466.57 L474.00,466.57 L475.00,466.58 L476.00,466.58 L477.00,466.58 L478.00,466.58 L479.00,466.59 L480.00,466.59 L481.00,466.59 L482.00,466.59 L483.00,466.59 L484.00,466.59 L485.00,466.59 L486.00,466.59 L487.00,466.60 L488.00,466.60 L489.00,466.60 L490.00,466.60 L491.00,466.60 L492.00,466.60 L493.00,466.60 L494.00,466.60 L495.00,466.60 L496.00,466.60 L497.00,466.60 L498.00,466.60 L499.00,466.60 L500.00,466.60 L501.00,466.60 L502.00,466.60 L503.00,466.60 L504.00,466.60 L505.00,466.60 L506.00,466.60 L507.00,466.60 L508.00,466.60 L509.00,466.60 L510.00,466.60 L511.00,466.60 L512.00,466.60 L513.00,466.60 L514.00,466.60 L515.00,466.60 L516.00,466.60 L517.00,466.60 L518.00,466.60 L519.00,466.60 L520.00,466.60 L521.00,466.60 L522.00,466.60 L523.00,466.60 L524.00,466.60 L525.00,466.60 L526.00,466.60 L527.00,466.60 L528.00,466.60 L529.00,466.60 L530.00,466.60 L531.00,466.60 L532.00,466.60 L533.00,466.60 L534.00,466.60 L535.00,466.60 L536.00,466.60 L537.00,466.60 L538.00,466.60 L539.00,466.60 L540.00,466.60 L541.00,466.60 L542.00,466.60 L543.00,466.60 L544.00,466.60 L545.00,466.60 L546.00,466.60 L547.00,466.60 L548.00,466.60 L549.00,466.60 L550.00,466.60 L551.00,466.60 L552.00,466.60 L553.00,466.60 L554.00,466.60 L555.00,466.60 L556.00,466.60 L557.00,466.60 L558.00,466.60 L559.00,466.60 L560.00,466.60 L561.00,466.60 L562.00,466.60 L563.00,466.60 L564.00,466.60 L565.00,466.60 L566.00,466.60 L567.00,466.60 L568.00,466.60 L569.00,466.60 L570.00,466.60 L571.00,466.60 L572.00,466.60 L573.00,466.60 L574.00,466.60 L575.00,466.60 L576.00,466.60 L577.00,466.60 L578.00,466.60 L579.00,466.60 L580.00,466.60 L581.00,466.60 L582.00,466.60 L583.00,466.60 L584.00,466.60 L585.00,466.60 L586.00,466.60 L587.00,466.60 L588.00,466.60 L589.00,466.60 L590.00,466.60 L591.00,466.60 L592.00,466.60 L593.00,466.60 L594.00,466.60 L595.00,466.60 L596.00,466.60 L597.00,466.60 L598.00,466.60 L599.00,466.60 L600.00,466.60 L601.00,466.60 L602.00,466.60 L603.00,466.60 L604.00,466.60 L605.00,466.60 L606.00,466.60 L607.00,466.60 L608.00,466.60 L609.00,466.60 L610.00,466.60 L611.00,466.60 L612.00,466.60 L613.00,466.60 L614.00,466.60 L615.00,466.60 L616.00,466.60 L617.00,466.60 L618.00,466.60 L619.00,466.60 L620.00,466.60 L621.00,466.60 L622.00,466.60 L623.00,466.60 L624.00,466.60 L625.00,466.60 L626.00,466.60 L627.00,466.60 L628.00,466.60 L629.00,466.60 L630.00,466.60 L631.00,466.60 L632.00,466.60 L633.00,466.60 L634.00,466.60 L635.00,466.60 L636.00,466.60 L637.00,466.60 L638.00,466.60 L639.00,466.60 L640.00,466.60 L641.00,466.60 L642.00,466.60 L643.00,466.60 L644.00,466.60 L645.00,466.60 L646.00,466.60 L647.00,466.60 L648.00,466.60 L649.00,466.60 L650.00,466.60 L651.00,466.60 L652.00,466.60 L653.00,466.60 L654.00,466.60 L655.00,466.60 L656.00,466.60 L657.00,466.60 L658.00,466.60 L659.00,466.60 L660.00,466.60 L661.00,466.60 L662.00,466.60 L663.00,466.60 L664.00,466.60 L665.00,466.60 L666.00,466.60 L667.00,466.60 L668.00,466.60 L669.00,466.60 L670.00,466.60 L671.00,466.60 L672.00,466.60 L673.00,466.60 L674.00,466.60 L675.00,466.60 L676.00,466.60 L677.00,466.60 L678.00,466.60 L679.00,466.60 L680.00,466.60 L681.00,466.60 L682.00,466.60 L683.00,466.60 L684.00,466.60 L685.00,466.60 L686.00,466.60 L687.00,466.60 L687.40,466.60" stroke="#ff0000" stroke-width="2.45" stroke-dasharray="8.4 3.61 2.1 3.61" stroke-dashoffset="0"/>
</g>
<text filter="url(#gs)" font-size="25px" text-anchor="middle" transform="translate(70.4,253.6) rotate(-90)">normalized histogram weighted by density</text>
<text filter="url(#gs)" font-size="25.2px" x="317.5" y="524.7">Log(P/k (K cm<tspan font-size="10px" dy="-10.6">-3</tspan><tspan dy="10.6">))</tspan></text>
<g>
<rect x="445.3" y="57.0" width="233.3" height="58.1" fill="#fff" stroke="#000" stroke-width="0.65"/>
<g filter="url(#gs)" font-size="20px" text-anchor="end">
<text x="589.3" y="72.7">P 3D</text>
<text x="589.3" y="89.7">P mean</text>
<text x="589.3" y="106.6">Jenkins 2011 fit</text>
</g>
<g fill="none">
<path d="M600,69.4H662.9" stroke="#000" stroke-width="3"/>
<path d="M600,86.1H662.9" stroke="#00008b" stroke-width="2.7"/>
<path d="M600,102.8H662.9" stroke="#ff0000" stroke-width="2.7" stroke-dasharray="8.2 3.7 1.9 3.8"/>
</g>
</g>
</svg>
</body></html>
